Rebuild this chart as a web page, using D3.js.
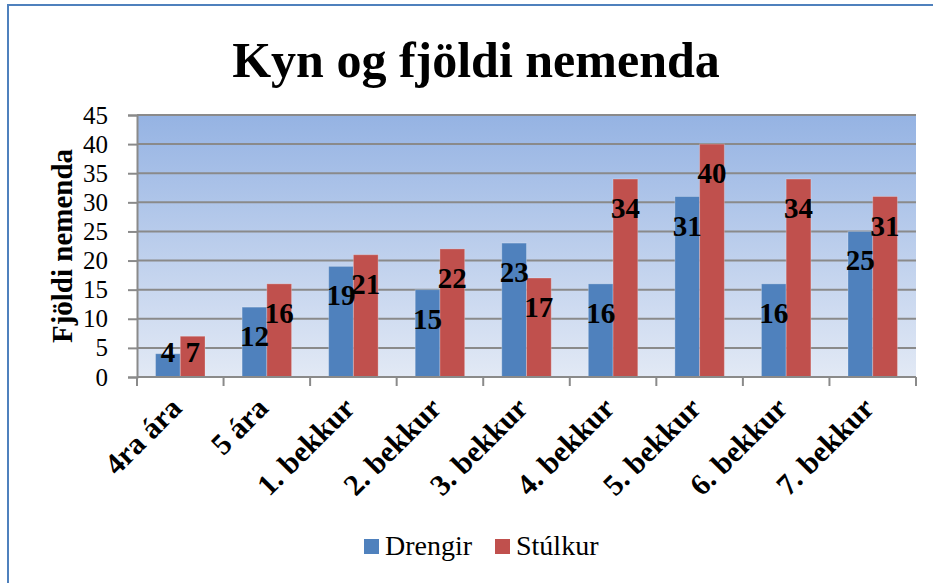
<!DOCTYPE html>
<html>
<head>
<meta charset="utf-8">
<script src="https://cdn.jsdelivr.net/npm/d3@7"></script>
<style>
  body { margin: 0; background: #fff; }
  svg text { font-family: "Liberation Serif", "Times New Roman", serif; fill: #000; }
</style>
</head>
<body>
<div id="vis"></div>
<script>
// data
const categories = ['4ra ára', '5 ára', '1. bekkur', '2. bekkur', '3. bekkur', '4. bekkur', '5. bekkur', '6. bekkur', '7. bekkur'];
const seriesNames = ['Drengir', 'Stúlkur'];
const drengir = [4, 12, 19, 15, 23, 16, 31, 16, 25];
const stulkur = [7, 16, 21, 22, 17, 34, 40, 34, 31];
const yTicks = [0, 5, 10, 15, 20, 25, 30, 35, 40, 45];

const colors = {Drengir: '#4f81bd', 'Stúlkur': '#c0504d'};
const values = {Drengir: drengir, 'Stúlkur': stulkur};

const W = 933, H = 583;
const plot = {left: 137, right: 916, top: 115, bottom: 377};
const serif = '"Liberation Serif", "Times New Roman", serif';

const svg = d3.select('#vis')
    .append('svg')
    .attr('width', W)
    .attr('height', H);

// outer chart border (runs off the right and bottom edge)
svg.append('rect')
    .attr('x', 8).attr('y', 5)
    .attr('width', 1000).attr('height', 1000)
    .attr('fill', 'none')
    .attr('stroke', '#4f81bd')
    .attr('stroke-width', 2);

const xScale = d3.scaleBand()
    .domain(categories)
    .range([plot.left, plot.right])
    .padding(0);

const xSub = d3.scaleBand()
    .domain(seriesNames)
    .range([0, xScale.bandwidth()])
    .paddingInner(0)
    .paddingOuter(0.75);

const yScale = d3.scaleLinear()
    .domain([0, 45])
    .range([plot.bottom, plot.top]);

// plot background gradient
const grad = svg.append('defs').append('linearGradient')
    .attr('id', 'bg')
    .attr('x1', 0).attr('y1', 0).attr('x2', 0).attr('y2', 1);
grad.append('stop').attr('offset', '0%').attr('stop-color', '#95b3e3');
grad.append('stop').attr('offset', '100%').attr('stop-color', '#e2e9f5');

svg.append('rect')
    .attr('x', plot.left).attr('y', plot.top)
    .attr('width', plot.right - plot.left)
    .attr('height', plot.bottom - plot.top)
    .attr('fill', 'url(#bg)');

// gridlines
svg.append('g')
    .selectAll('line')
    .data(yTicks.slice(1))
    .enter()
    .append('line')
    .attr('x1', plot.left).attr('x2', plot.right)
    .attr('y1', d => yScale(d)).attr('y2', d => yScale(d))
    .attr('stroke', '#8a8a8a')
    .attr('stroke-width', 2);

// bars
const groups = svg.append('g')
    .selectAll('g')
    .data(seriesNames)
    .enter()
    .append('g')
    .attr('fill', d => colors[d]);

groups.selectAll('rect')
    .data(s => values[s].map((v, i) => ({s, v, c: categories[i]})))
    .enter()
    .append('rect')
    .attr('x', d => xScale(d.c) + xSub(d.s))
    .attr('y', d => yScale(d.v))
    .attr('width', xSub.bandwidth())
    .attr('height', d => yScale(0) - yScale(d.v))
    .attr('stroke', 'rgba(255,255,255,0.25)')
    .attr('stroke-width', 1);

// data labels
svg.append('g')
    .selectAll('text')
    .data(seriesNames.flatMap(s => values[s].map((v, i) => ({s, v, c: categories[i]}))))
    .enter()
    .append('text')
    .attr('x', d => xScale(d.c) + xSub(d.s) + xSub.bandwidth() / 2)
    .attr('y', d => Math.min(yScale(d.v) + 29, yScale(0) - 25) + 10)
    .attr('text-anchor', 'middle')
    .style('font-family', serif)
    .style('font-size', '29px')
    .style('font-weight', 'bold')
    .text(d => d.v);

// y axis
const yAxis = d3.axisLeft(yScale)
    .tickValues(yTicks)
    .tickSize(9)
    .tickPadding(20);

const gy = svg.append('g')
    .attr('transform', `translate(${plot.left},0)`)
    .call(yAxis);
gy.select('.domain').attr('stroke', '#8a8a8a').attr('stroke-width', 2);
gy.selectAll('.tick line').attr('stroke', '#8a8a8a').attr('stroke-width', 2);
gy.selectAll('.tick text')
    .style('font-family', serif)
    .style('font-size', '25px')
    .attr('fill', '#000');

// x axis: ticks at category boundaries
svg.append('line')
    .attr('x1', plot.left).attr('x2', plot.right)
    .attr('y1', plot.bottom).attr('y2', plot.bottom)
    .attr('stroke', '#8a8a8a').attr('stroke-width', 2);

svg.append('g')
    .selectAll('line')
    .data(categories.concat(['end']))
    .enter()
    .append('line')
    .attr('x1', (d, i) => i < categories.length ? xScale(d) : plot.right)
    .attr('x2', (d, i) => i < categories.length ? xScale(d) : plot.right)
    .attr('y1', plot.bottom).attr('y2', plot.bottom + 9)
    .attr('stroke', '#8a8a8a').attr('stroke-width', 2);

svg.append('g')
    .selectAll('text')
    .data(categories)
    .enter()
    .append('text')
    .attr('transform', d => `translate(${xScale(d) + xScale.bandwidth() / 2 + 3},410) rotate(-45)`)
    .attr('text-anchor', 'end')
    .style('font-family', serif)
    .style('font-size', '30px')
    .style('font-weight', 'bold')
    .text(d => d);

// titles
svg.append('text')
    .attr('x', 476).attr('y', 77)
    .attr('text-anchor', 'middle')
    .style('font-family', serif)
    .style('font-size', '50px')
    .style('font-weight', 'bold')
    .text('Kyn og fjöldi nemenda');

svg.append('text')
    .attr('transform', 'translate(72,246) rotate(-90)')
    .attr('text-anchor', 'middle')
    .style('font-family', serif)
    .style('font-size', '29px')
    .style('font-weight', 'bold')
    .text('Fjöldi nemenda');

// legend
const legend = svg.append('g')
    .selectAll('g')
    .data(seriesNames)
    .enter()
    .append('g')
    .attr('transform', (d, i) => `translate(${[364, 495][i]},539)`);

legend.append('rect')
    .attr('width', 15).attr('height', 15)
    .attr('fill', d => colors[d]);

legend.append('text')
    .attr('x', 21).attr('y', 16)
    .style('font-family', serif)
    .style('font-size', '28px')
    .text(d => d);
</script>
</body>
</html>
